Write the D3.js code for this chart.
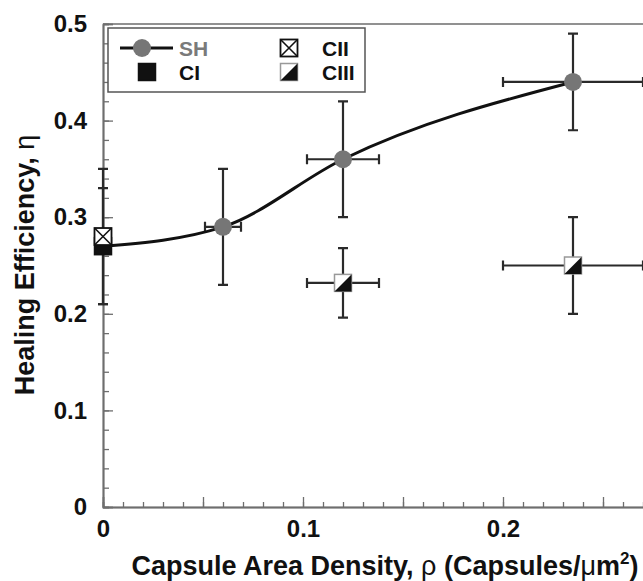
<!DOCTYPE html>
<html>
<head>
<meta charset="utf-8">
<script src="https://cdn.jsdelivr.net/npm/d3@7"></script>
<style>
  body { margin: 0; background: #fff; }
  svg text { font-family: "Liberation Sans", Arial, sans-serif; font-weight: bold; }
</style>
</head>
<body>
<div id="chart"></div>
<script>
//******************************************************************************
//** data
//******************************************************************************
  // SH series (gray circles + smooth line)
    var shX = [0.06, 0.12, 0.235];
    var shY = [0.29, 0.36, 0.44];
    var shYErr = [0.06, 0.06, 0.05];
    var shXErr = [0.009, 0.018, 0.035];

  // smooth curve through the SH points, starting at rho=0
    var curveX = [0, 0.06, 0.12, 0.235];
    var curveY = [0.27, 0.29, 0.36, 0.44];

  // CI and CII sit at rho=0
    var ciX = [0];
    var ciY = [0.27];
    var ciYErr = [0.06];

    var ciiX = [0];
    var ciiY = [0.28];
    var ciiYErr = [0.07];

  // CIII (half filled squares)
    var ciiiX = [0.12, 0.235];
    var ciiiY = [0.232, 0.25];
    var ciiiYErr = [0.036, 0.05];
    var ciiiXErr = [0.018, 0.035];

    var xTickLabels = [0, 0.1, 0.2];
    var yTickLabels = [0, 0.1, 0.2, 0.3, 0.4, 0.5];


//******************************************************************************
//** chart
//******************************************************************************
    var width = 643, height = 581;
    var plotLeft = 103, plotTop = 24, plotBottom = 507, plotRight = 703;

    var svg = d3.select("#chart").append("svg")
        .attr("width", width)
        .attr("height", height);

    var x = d3.scaleLinear().domain([0, 0.3]).range([plotLeft, plotRight]);
    var y = d3.scaleLinear().domain([0, 0.5]).range([plotBottom, plotTop]);

    var axisColor = "#6e6e6e";
    var barColor = "#2a2a2a";

  // frame (top + right)
    svg.append("path")
        .attr("d", `M${plotLeft},${plotTop}H${plotRight}V${plotBottom}`)
        .attr("fill", "none")
        .attr("stroke", axisColor)
        .attr("stroke-width", 1.5);

  //**************************************************************************
  //** axes: minor ticks, medium ticks, labels
  //**************************************************************************
    var tickAxis = function(gen, values, size){
        return gen.tickValues(values).tickSize(-size).tickFormat("");
    };

    var xMinor = d3.range(0, 0.301, 0.01);
    var xMid = d3.range(0, 0.301, 0.05);
    var yMinor = d3.range(0, 0.501, 0.02);
    var fmt = function(d){ return d === 0 ? "0" : d3.format(".1f")(d); };

    var gx = svg.append("g").attr("transform", `translate(0,${plotBottom})`);
    gx.append("g").call(tickAxis(d3.axisBottom(x), xMinor, 5));
    gx.append("g").call(tickAxis(d3.axisBottom(x), xMid, 10));
    gx.append("g").call(d3.axisBottom(x).tickValues(xTickLabels).tickSize(0).tickPadding(13).tickFormat(fmt));

    var gy = svg.append("g").attr("transform", `translate(${plotLeft},0)`);
    gy.append("g").call(tickAxis(d3.axisLeft(y), yMinor, 6));
    gy.append("g").call(tickAxis(d3.axisLeft(y), yTickLabels, 10));
    gy.append("g").call(d3.axisLeft(y).tickValues(yTickLabels).tickSize(0).tickPadding(16).tickFormat(fmt));

    svg.selectAll(".domain").attr("stroke", axisColor).attr("stroke-width", 1.5);
    svg.selectAll(".tick line").attr("stroke", axisColor).attr("stroke-width", 1.3);
    svg.selectAll(".tick text")
        .attr("fill", "#111")
        .style("font-size", "24px")
        .style("font-family", "'Liberation Sans', Arial, sans-serif")
        .style("font-weight", "bold");

  // axis titles
    var xt = svg.append("text")
        .attr("x", 385)
        .attr("y", 575)
        .attr("text-anchor", "middle")
        .style("font-size", "27px")
        .attr("fill", "#111");
    xt.append("tspan").text("Capsule Area Density, ");
    xt.append("tspan").text("ρ").style("font-weight", "normal");
    xt.append("tspan").text(" (Capsules/");
    xt.append("tspan").text("μ").style("font-weight", "normal");
    xt.append("tspan").text("m");
    xt.append("tspan").text("2").attr("dy", -11).style("font-size", "17px");
    xt.append("tspan").text(")").attr("dy", 11);

    var yt = svg.append("text")
        .attr("transform", "translate(34,265) rotate(-90)")
        .attr("text-anchor", "middle")
        .style("font-size", "27px")
        .attr("fill", "#111");
    yt.append("tspan").text("Healing Efficiency, ");
    yt.append("tspan").text("η").style("font-weight", "normal");

  //**************************************************************************
  //** error bars
  //**************************************************************************
    var errG = svg.append("g")
        .attr("stroke", barColor)
        .attr("stroke-width", 2.2)
        .attr("fill", "none");

    var vBar = function(cx, cy, e){
        var y1 = y(cy + e), y2 = y(cy - e), px = x(cx);
        errG.append("path").attr("d",
            `M${px},${y1}V${y2}M${px-5},${y1}H${px+5}M${px-5},${y2}H${px+5}`);
    };
    var hBar = function(cx, cy, e){
        var x1 = x(cx - e), x2 = x(cx + e), py = y(cy);
        errG.append("path").attr("d",
            `M${x1},${py}H${x2}M${x1},${py-5}V${py+5}M${x2},${py-5}V${py+5}`);
    };

    ciX.forEach(function(d, i){ vBar(d, ciY[i], ciYErr[i]); });
    ciiX.forEach(function(d, i){ vBar(d, ciiY[i], ciiYErr[i]); });
    shX.forEach(function(d, i){ vBar(d, shY[i], shYErr[i]); hBar(d, shY[i], shXErr[i]); });
    ciiiX.forEach(function(d, i){ vBar(d, ciiiY[i], ciiiYErr[i]); hBar(d, ciiiY[i], ciiiXErr[i]); });

  //**************************************************************************
  //** SH curve + markers
  //**************************************************************************
    var line = d3.line()
        .x(function(d){ return x(d[0]); })
        .y(function(d){ return y(d[1]); })
        .curve(d3.curveMonotoneX);

    svg.append("path")
        .datum(d3.zip(curveX, curveY))
        .attr("d", line)
        .attr("fill", "none")
        .attr("stroke", "#111")
        .attr("stroke-width", 3);

    var size = 17;

  // marker helpers (also used by legend)
    var drawCircle = function(g, px, py){
        g.append("circle").attr("cx", px).attr("cy", py).attr("r", 9)
            .attr("fill", "#767676");
    };
    var drawCI = function(g, px, py){
        g.append("rect").attr("x", px - size/2).attr("y", py - size/2)
            .attr("width", size).attr("height", size)
            .attr("fill", "#111").attr("stroke", "#111").attr("stroke-width", 1.5);
    };
    var drawCII = function(g, px, py){
        var h = size/2;
        g.append("rect").attr("x", px - h).attr("y", py - h)
            .attr("width", size).attr("height", size)
            .attr("fill", "#fff").attr("stroke", "#111").attr("stroke-width", 1.8);
        g.append("path")
            .attr("d", `M${px-h},${py-h}L${px+h},${py+h}M${px+h},${py-h}L${px-h},${py+h}`)
            .attr("stroke", "#111").attr("stroke-width", 1.6);
    };
    var drawCIII = function(g, px, py){
        var h = size/2;
        g.append("rect").attr("x", px - h).attr("y", py - h)
            .attr("width", size).attr("height", size)
            .attr("fill", "#fff").attr("stroke", "#999").attr("stroke-width", 1.5);
        g.append("path")
            .attr("d", `M${px+h},${py-h}L${px+h},${py+h}L${px-h},${py+h}Z`)
            .attr("fill", "#111");
    };

    var marks = svg.append("g");
    shX.forEach(function(d, i){ drawCircle(marks, x(d), y(shY[i])); });
    ciX.forEach(function(d, i){ drawCI(marks, x(d), y(ciY[i])); });
    ciiX.forEach(function(d, i){ drawCII(marks, x(d), y(ciiY[i])); });
    ciiiX.forEach(function(d, i){ drawCIII(marks, x(d), y(ciiiY[i])); });

  //**************************************************************************
  //** legend
  //**************************************************************************
    var lg = svg.append("g");
    lg.append("rect")
        .attr("x", 108).attr("y", 28)
        .attr("width", 257).attr("height", 64)
        .attr("fill", "#fff")
        .attr("stroke", "#555")
        .attr("stroke-width", 1.5);

    lg.append("line")
        .attr("x1", 120).attr("x2", 173).attr("y1", 48).attr("y2", 48)
        .attr("stroke", "#111").attr("stroke-width", 3);
    drawCircle(lg, 142, 48);
    drawCI(lg, 147, 72);
    drawCII(lg, 289, 48);
    drawCIII(lg, 289, 72);

    var legendText = [
        {t: "SH", x: 179, y: 56, c: "#7a7a7a"},
        {t: "CI", x: 179, y: 80, c: "#111"},
        {t: "CII", x: 322, y: 56, c: "#111"},
        {t: "CIII", x: 322, y: 80, c: "#111"}
    ];
    lg.selectAll("text.lab").data(legendText).enter().append("text")
        .attr("class", "lab")
        .attr("x", function(d){ return d.x; })
        .attr("y", function(d){ return d.y; })
        .attr("fill", function(d){ return d.c; })
        .style("font-size", "21px")
        .text(function(d){ return d.t; });
</script>
</body>
</html>
